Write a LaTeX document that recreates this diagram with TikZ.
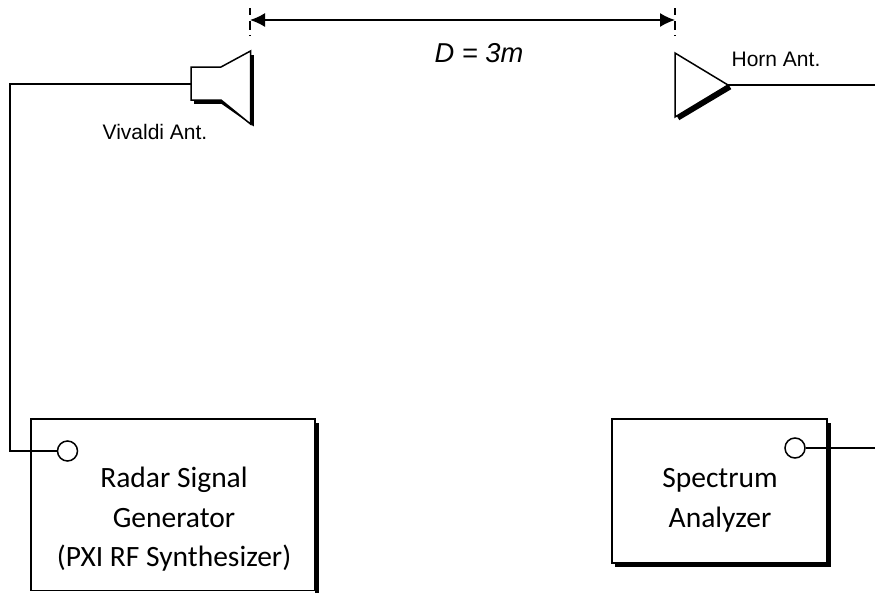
\documentclass[tikz,border=0pt]{standalone}
\usepackage{fontspec}
\setmainfont{Carlito}
\newfontfamily\arialf{Liberation Sans}
\usetikzlibrary{arrows.meta}
\begin{document}
\begin{tikzpicture}[x=1pt,y=-1pt,line join=miter,
  wire/.style={line width=1.5pt,black},
  thin wire/.style={line width=1.2pt,black},
  shadow/.style={line width=3.6pt,black},
  portc/.style={circle,draw,line width=1.5pt,black,fill=white,minimum size=20pt,inner sep=0pt},
  boxlab/.style={font=\fontsize{29.5}{39.5}\selectfont,align=center,text=black},
  smalllab/.style={font=\arialf\fontsize{21}{25}\selectfont,text=black},
  dim/.style={line width=1.5pt,{Latex[length=15pt,width=14pt]}-{Latex[length=15pt,width=14pt]}},
  ticks/.style={line width=1.1pt,dash pattern=on 7pt off 6pt on 9pt off 5pt on 1pt off 30pt}]
\useasboundingbox (0,0) rectangle (875,592);
\begin{scope}
\clip (0,0) rectangle (875,592);
% shadows
\draw[shadow] (317,423) -- (317,600);
\draw[shadow] (829,423) -- (829,565.5) -- (615,565.5);
% boxes
\coordinate (g1) at (31,419);
\coordinate (g2) at (315,590.5);
\coordinate (s1) at (612,419);
\coordinate (s2) at (827,563);
\draw[wire,fill=white] (g1) rectangle (g2);
\draw[wire,fill=white] (s1) rectangle (s2);
% ports
\node[portc] (gp) at (67.5,451) {};
\node[portc] (sp) at (795,448) {};
% labels
\node[boxlab] (gl) at (174,519.5) {Radar Signal\\Generator\\(PXI RF Synthesizer)};
\node[boxlab] (sl) at (720,500.5) {Spectrum\\Analyzer};
\node[smalllab] (vl) at (155,132) {Vivaldi Ant.};
\node[smalllab] (hl) at (776,59) {Horn Ant.};
\node[font=\arialf\itshape\fontsize{27.3}{30}\selectfont] (dl) at (479,53) {D = 3m};
% Vivaldi antenna
\draw[shadow] (194,102) -- (222,102) -- (252,123) -- (252,55);
\draw[wire,fill=white] (191,67) -- (221,67) -- (250.5,51) -- (250.5,124) -- (221,100) -- (191,100) -- cycle;
\coordinate (va) at (191,84);
% Horn antenna
\draw[line width=5pt] (678,118) -- (730,87);
\draw[wire,fill=white] (675,53) -- (728,85) -- (675,117) -- cycle;
\coordinate (ha) at (728,85);
% wires
\coordinate (r1) at (875,85);
\coordinate (r2) at (875,448);
\draw[thin wire] (ha) -- (r1);
\draw[thin wire] (sp) -- (r2);
\draw[thin wire] (va) -- (10,84) -- (10,451) -- (gp);
% dimension
\coordinate (t1) at (250,8);
\coordinate (t2) at (675,8);
\draw[ticks] (t1) -- +(0,29);
\draw[ticks] (t2) -- +(0,29);
\draw[dim] (t1|-0,20) -- (t2|-0,20);
\end{scope}
\end{tikzpicture}
\end{document}
